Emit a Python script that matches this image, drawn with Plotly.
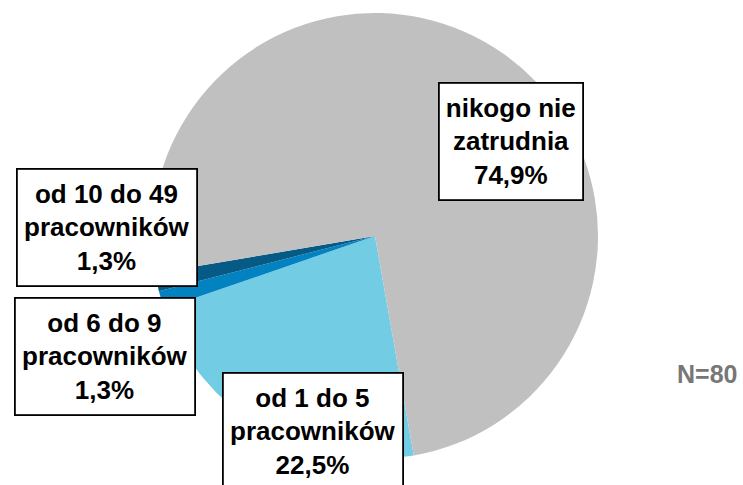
import plotly.graph_objects as go

categories = ["od 1 do 5 pracowników", "od 6 do 9 pracowników",
              "od 10 do 49 pracowników", "nikogo nie zatrudnia"]
values = [22.5, 1.3, 1.3, 74.9]
value_labels = ["22,5%", "1,3%", "1,3%", "74,9%"]
label_lines = [["od 1 do 5", "pracowników"], ["od 6 do 9", "pracowników"],
               ["od 10 do 49", "pracowników"], ["nikogo nie", "zatrudnia"]]
colors = ["#72CCE4", "#0382C2", "#055B86", "#C0C0C0"]
note = "N=80"

W, H = 743, 485

fig = go.Figure(go.Pie(
    labels=categories, values=values, sort=False, direction="clockwise",
    rotation=170, textinfo="none", hoverinfo="label+percent",
    marker=dict(colors=colors, line=dict(width=0)),
    domain=dict(x=[(375 - 223) / W, (375 + 223) / W],
                y=[1 - 459 / H, 1 - 13 / H]),
    showlegend=False,
))

# label box geometry (pixel centres, box sizes)
boxes = [
    (313, 431, 176, 113),
    (105, 356, 176, 113),
    (107, 227, 176, 113),
    (511, 141, 140, 113),
]
font = dict(family="Liberation Sans, Arial, sans-serif", size=26, color="black")
for (cx, cy, bw, bh), lines, vl in zip(boxes, label_lines, value_labels):
    fig.add_annotation(
        x=cx / W, y=1 - cy / H, xref="paper", yref="paper",
        xanchor="center", yanchor="middle",
        text="<b>" + "<br>".join(lines + [vl]) + "</b>",
        showarrow=False, font=font, align="center",
        width=bw, height=bh, bgcolor="white",
        bordercolor="black", borderwidth=1.8, borderpad=1,
    )

fig.add_annotation(
    x=707 / W, y=1 - 374 / H, xref="paper", yref="paper",
    xanchor="center", yanchor="middle", showarrow=False,
    text="<b>" + note + "</b>",
    font=dict(family="Liberation Sans, Arial, sans-serif", size=25, color="#777777"),
)

fig.update_layout(
    width=W, height=H, margin=dict(l=0, r=0, t=0, b=0),
    paper_bgcolor="white", plot_bgcolor="white",
)

fig.write_html("out.html", config={"displayModeBar": False},
               post_script="document.body.style.margin='0';document.body.style.overflow='hidden';")
